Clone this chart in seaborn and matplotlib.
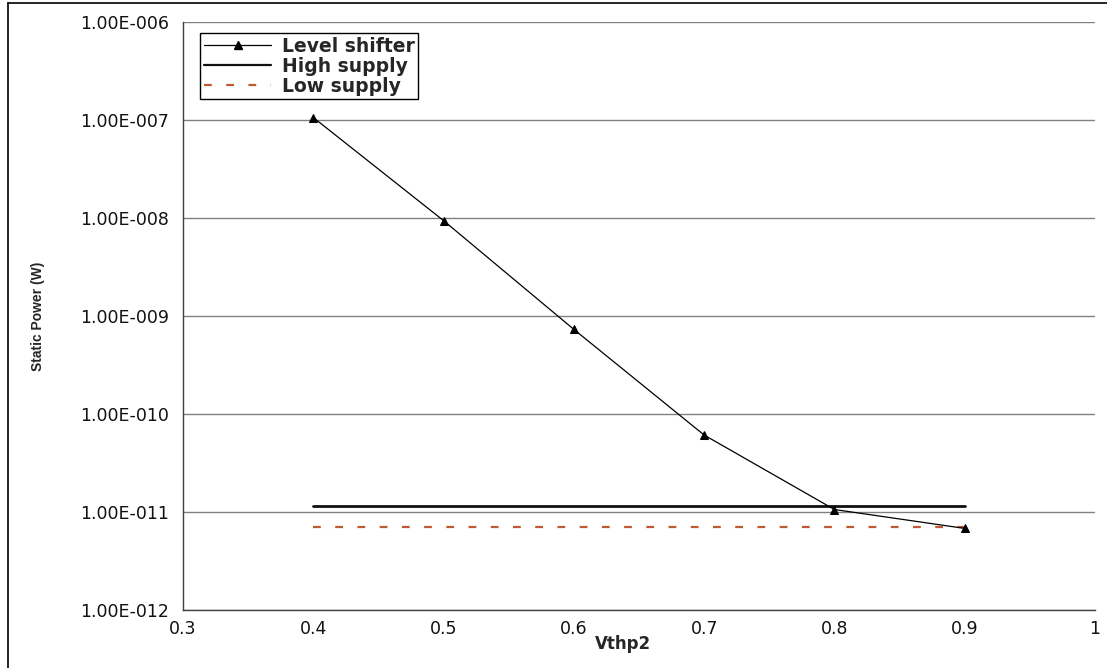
import matplotlib
matplotlib.use("Agg")
import matplotlib.pyplot as plt
import matplotlib.ticker as mticker
from matplotlib.lines import Line2D
import numpy as np
import pandas as pd
import seaborn as sns

# ---- data ----
vthp2 = [0.4, 0.5, 0.6, 0.7, 0.8, 0.9]
level_shifter = [1.06e-7, 9.4e-9, 7.3e-10, 6.1e-11, 1.06e-11, 6.8e-12]
supply_x = [0.4, 0.9]
high_supply = [1.16e-11, 1.16e-11]
low_supply = [7.0e-12, 7.0e-12]
series_names = ["Level shifter", "High supply", "Low supply"]
x_label = "Vthp2"
y_label = "Static Power (W)"

sns.set_style("white")
plt.rcParams["font.family"] = ["DejaVu Sans"]

fig = plt.figure(figsize=(11.07, 6.68), dpi=100)
W, H = 1107, 668
ax = fig.add_axes([183 / W, 1 - 610 / H, (1095 - 183) / W, (610 - 22) / H])

df_ls = pd.DataFrame({"x": vthp2, "y": level_shifter})
df_hi = pd.DataFrame({"x": supply_x, "y": high_supply})
df_lo = pd.DataFrame({"x": supply_x, "y": low_supply})

low_color = "#BE5A32"
sns.lineplot(data=df_lo, x="x", y="y", ax=ax, color=low_color, lw=1.6,
             dashes=False, zorder=3)
ax.lines[-1].set_dashes((3.5, 6.5))
sns.lineplot(data=df_hi, x="x", y="y", ax=ax, color="#111111", lw=2.0, zorder=4)
sns.lineplot(data=df_ls, x="x", y="y", ax=ax, color="black", lw=0.9,
             marker="^", markersize=5.5, markeredgecolor="black",
             markerfacecolor="black", zorder=5)

ax.set_yscale("log")
ax.set_ylim(1e-12, 1e-6)
ax.set_xlim(0.3, 1.0)
ax.set_xticks([0.3, 0.4, 0.5, 0.6, 0.7, 0.8, 0.9, 1.0])
ax.set_yticks([1e-12, 1e-11, 1e-10, 1e-9, 1e-8, 1e-7, 1e-6])
ax.yaxis.set_minor_locator(mticker.NullLocator())


def yfmt(v, pos):
    e = int(round(np.log10(v)))
    m = v / 10 ** e
    sign = "-" if e < 0 else "+"
    return f"{m:.2f}E{sign}{abs(e):03d}"


ax.yaxis.set_major_formatter(mticker.FuncFormatter(yfmt))
ax.xaxis.set_major_formatter(mticker.FuncFormatter(lambda v, p: f"{v:g}"))

ax.grid(axis="y", color="#808080", lw=1.0)
ax.grid(axis="x", visible=False)
for s in ["top", "right"]:
    ax.spines[s].set_visible(False)
for s in ["left", "bottom"]:
    ax.spines[s].set_color("#404040")
    ax.spines[s].set_linewidth(1.0)

ax.tick_params(axis="both", direction="out", length=6, width=1,
               color="#404040", labelsize=12.5, labelcolor="#111111")
ax.tick_params(axis="y", pad=4)
ax.tick_params(axis="x", pad=2, length=5)

ax.set_xlabel(x_label, fontsize=12, fontweight="bold")
ax.xaxis.set_label_coords(0.482, -0.043)
ax.set_ylabel(y_label, fontsize=10, fontweight="bold",
              family=["Liberation Sans"])
ax.yaxis.set_label_coords((45 - 183) / 912, 0.5)

handles = [
    Line2D([], [], color="black", lw=0.9, marker="^", markersize=5.5),
    Line2D([], [], color="#111111", lw=1.6),
    Line2D([], [], color=low_color, lw=1.6, dashes=(3.5, 6.5)),
]
leg = ax.legend(handles, series_names, loc="upper left",
                bbox_to_anchor=((200 - 183) / 912, (610 - 33) / 588),
                frameon=True, fancybox=False, framealpha=1, edgecolor="black",
                prop={"size": 13.5, "weight": "bold"},
                handlelength=3.6, handletextpad=0.55,
                labelspacing=0.05, borderpad=0.2, borderaxespad=0)
leg.get_frame().set_linewidth(1.0)

# outer chart frame (left and top visible)
fig.add_artist(Line2D([8 / W, 8 / W], [0, 1 - 3 / H], color="black", lw=1.2,
                      transform=fig.transFigure))
fig.add_artist(Line2D([8 / W, 1], [1 - 3 / H, 1 - 3 / H], color="black",
                      lw=1.2, transform=fig.transFigure))

fig.savefig("out.png", dpi=100)
